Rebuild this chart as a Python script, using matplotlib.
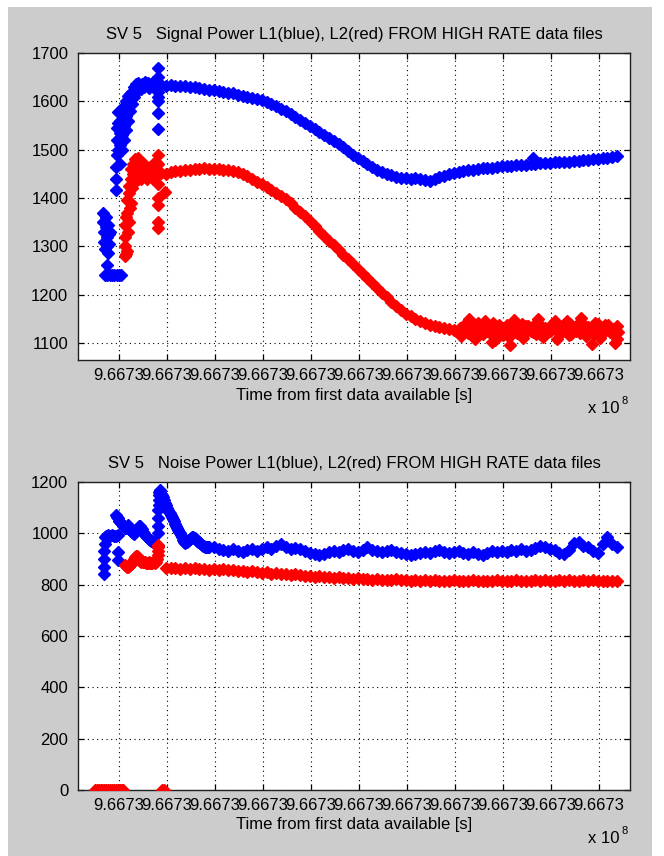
import numpy as np
import matplotlib
matplotlib.use("Agg")
import matplotlib.pyplot as plt
from matplotlib.patches import Rectangle
from matplotlib.ticker import FixedLocator, FuncFormatter

plt.rcParams['font.family'] = ['Liberation Sans', 'DejaVu Sans']

# ---------------- axis / text data ----------------
T_FIRST = 966729488.0          # epoch [s] of first data sample
TICK_OFFSET = 312.0            # first tick relative to first sample [s]
TICK_STEP = 500.0
N_TICKS = 11
X_RANGE = (-115.0, 5635.0)     # relative to first sample [s]

SIG_YLIM = (1065, 1700)
SIG_YTICKS = [1100, 1200, 1300, 1400, 1500, 1600, 1700]
NOISE_YLIM = (0, 1200)
NOISE_YTICKS = [0, 200, 400, 600, 800, 1000, 1200]

TITLE_SIG = "SV 5   Signal Power L1(blue), L2(red) FROM HIGH RATE data files"
TITLE_NOISE = "SV 5   Noise Power L1(blue), L2(red) FROM HIGH RATE data files"
XLABEL = "Time from first data available [s]"

# ---------------- signal power L1 (blue) ----------------
sig_l1_early = [
    (146, 1370), (150, 1350), (156, 1330), (160, 1310), (167, 1295), (172, 1360),
    (177, 1340), (183, 1320), (188, 1300), (194, 1287), (200, 1345), (205, 1325),
    (210, 1305), (215, 1330), (188, 1261),
    (167, 1240), (190, 1240), (215, 1240), (240, 1240), (265, 1240), (290, 1240),
    (315, 1240), (330, 1240),
    (281, 1417), (281, 1440), (281, 1465), (292, 1490), (292, 1520), (292, 1545),
    (302, 1578), (302, 1555), (302, 1500), (323, 1470), (323, 1510), (323, 1535),
    (323, 1560), (344, 1500), (344, 1530), (344, 1575), (365, 1520), (365, 1550),
    (365, 1590), (385, 1540), (385, 1570), (385, 1600), (406, 1560), (406, 1590),
    (406, 1611), (427, 1580), (427, 1600), (427, 1615), (448, 1595), (448, 1620),
    (469, 1610), (469, 1630), (490, 1620), (490, 1635), (510, 1628), (510, 1638),
    (531, 1632), (552, 1636), (573, 1630), (594, 1634), (615, 1637), (635, 1631),
    (656, 1635), (677, 1633), (698, 1630), (541, 1626), (583, 1640), (625, 1627),
    (667, 1639),
    (719, 1669), (716, 1650), (721, 1640), (718, 1620), (722, 1610), (719, 1600),
    (720, 1576), (721, 1543),
]
SIG_L1_T0 = 750
SIG_STEP = 50
sig_l1_main = [
    1633, 1632, 1634, 1631, 1632, 1631, 1630, 1629, 1628, 1626,
    1624, 1623, 1621, 1620, 1618, 1617, 1614, 1612, 1609, 1607,
    1605, 1603, 1599, 1594, 1590, 1584, 1579, 1573, 1567, 1561,
    1555, 1549, 1543, 1537, 1531, 1525, 1519, 1512, 1505, 1497,
    1490, 1483, 1477, 1471, 1465, 1459, 1454, 1450, 1447, 1444,
    1442, 1441, 1440, 1441, 1439, 1437, 1435, 1440, 1443, 1446,
    1449, 1451, 1453, 1455, 1457, 1458, 1460, 1462, 1463, 1463,
    1465, 1466, 1466, 1467, 1468, 1469, 1469, 1470, 1471, 1472,
    1472, 1473, 1474, 1474, 1475, 1475, 1476, 1477, 1478, 1479,
    1480, 1481, 1482, 1483, 1484, 1486,
]
sig_l1_extra = [(4625, 1482)]

# ---------------- signal power L2 (red) ----------------
sig_l2_early = [
    (375, 1280), (375, 1300), (375, 1320), (375, 1345), (385, 1285), (385, 1360),
    (396, 1370), (396, 1395), (396, 1290), (406, 1330), (417, 1410), (417, 1425),
    (417, 1350), (427, 1380), (437, 1440), (437, 1460), (437, 1390), (448, 1420),
    (458, 1430), (458, 1470), (458, 1450), (469, 1440), (479, 1465), (479, 1445),
    (479, 1480), (490, 1460), (510, 1483), (510, 1460), (510, 1440), (531, 1455),
    (542, 1450), (542, 1465), (542, 1440), (573, 1455), (573, 1470), (573, 1445),
    (604, 1460), (604, 1440), (604, 1450), (635, 1465), (635, 1450), (635, 1445),
    (667, 1470), (667, 1455), (667, 1440), (698, 1475), (698, 1460), (698, 1445),
    (719, 1489), (719, 1470), (719, 1430), (719, 1400), (719, 1385), (722, 1350),
    (722, 1338), (792, 1412),
]
sig_l2_main = [
    1452, 1450, 1453, 1455, 1456, 1457, 1459, 1460, 1461, 1462,
    1461, 1461, 1460, 1459, 1457, 1456, 1453, 1450, 1445, 1440,
    1434, 1429, 1423, 1417, 1411, 1404, 1397, 1389, 1380, 1371,
    1362, 1352, 1342, 1332, 1322, 1312, 1303, 1293, 1283, 1273,
    1263, 1253, 1243, 1234, 1224, 1214, 1204, 1195, 1186, 1177,
    1168, 1160, 1155, 1150, 1145, 1141, 1138, 1136, 1133, 1131,
    1130, 1128,
    1127, 1135, 1120, 1130, 1142, 1118, 1125, 1133, 1112, 1128,
    1138, 1121, 1130, 1116, 1135, 1126, 1140, 1119, 1131, 1124,
    1145, 1128, 1136, 1117, 1130, 1141, 1122, 1134, 1127, 1139,
    1120, 1132, 1126, 1135,
]
SIG_L2_SCAT_T0 = 3875
sig_l2_scatter = [
    1115, 1140, 1125, 1108, 1132, 1145, 1120, 1106, 1138, 1124,
    1113, 1147, 1129, 1110, 1136, 1122, 1150, 1112, 1127, 1139,
    1108, 1133, 1146, 1118, 1125, 1152, 1115, 1130, 1142, 1111,
    1137, 1123, 1100,
]
SIG_L2_SCAT2_T0 = 3860
sig_l2_scatter2 = [
    1131, 1122, 1138, 1126, 1119, 1134, 1128, 1141, 1123, 1117,
    1132, 1126, 1120, 1139, 1124, 1131, 1118, 1136, 1122, 1128,
    1134, 1119, 1126, 1140, 1133, 1121, 1137, 1125, 1118, 1131,
    1124, 1138, 1129, 1122,
]
sig_l2_outliers = [(4385, 1096), (5240, 1098), (5500, 1108), (3960, 1150), (4200, 1102)]

# ---------------- noise power L1 (blue) ----------------
noise_l1_early = [
    (156, 840), (157, 870), (159, 900), (161, 930), (163, 960), (166, 985),
    (177, 990), (200, 992), (220, 989), (240, 993), (260, 991), (280, 990),
    (300, 993), (302, 927), (305, 895),
    (281, 1071), (292, 1065), (302, 1058), (313, 1050), (323, 1045), (334, 1040),
    (344, 1035), (354, 1030), (365, 1028), (375, 1022), (385, 1020), (396, 1026),
    (406, 1032), (417, 1022), (427, 1015), (437, 1008), (448, 1004), (458, 1000),
    (469, 998), (479, 1005), (490, 1010), (500, 1016), (510, 1022), (521, 1028),
    (531, 1030), (542, 1022), (552, 1015), (563, 1005), (573, 1000), (583, 994),
    (594, 990), (604, 984), (615, 980), (625, 977), (635, 975), (646, 972),
    (656, 970), (667, 967), (677, 965), (688, 960), (698, 958), (708, 953),
    (719, 950),
    (719, 1000), (720, 1030), (721, 1060), (722, 1090), (724, 1110), (726, 1130),
    (728, 1150), (730, 1160), (735, 1169), (740, 1162), (750, 1155),
    (760, 1150), (771, 1140), (781, 1128), (792, 1120), (802, 1110), (812, 1100),
    (823, 1090), (833, 1085), (844, 1079), (854, 1070), (865, 1062), (875, 1055),
    (885, 1047), (896, 1038), (906, 1030), (917, 1022), (927, 1014), (938, 1007),
    (948, 1001), (958, 993), (969, 984), (979, 975), (990, 968), (1000, 962),
    (1010, 965), (1021, 968), (1031, 972), (1042, 975), (1052, 978), (1063, 982),
    (1073, 985), (1083, 986), (1094, 983), (1104, 980), (1115, 976), (1125, 972),
    (1135, 968), (1146, 965), (1156, 962), (1167, 958), (1177, 955), (1188, 952),
    (1198, 950), (1208, 948), (1219, 947), (1229, 946), (1240, 946), (1250, 947),
]
NOISE_L1_T0 = 1300
noise_l1_main = [
    945, 940, 936, 933, 938, 932, 929, 935, 938, 931,
    940, 945, 938, 950, 958, 947, 940, 944, 938, 932,
    925, 918, 916, 921, 927, 933, 928, 936, 940, 931,
    928, 935, 945, 937, 930, 926, 932, 936, 928, 922,
    918, 916, 920, 925, 929, 924, 930, 934, 927, 922,
    927, 930, 924, 921, 926, 920, 916, 922, 930, 926,
    932, 928, 935, 930, 938, 933, 936, 944, 952, 948,
    940, 935, 925, 918, 935, 962, 966, 950, 945, 932,
    925, 960, 984, 960, 947,
]

# ---------------- noise power L2 (red) ----------------
noise_l2_zero_t = [62, 80, 100, 120, 140, 160, 180, 200, 220, 240, 260, 280,
                   300, 320, 340, 354, 762, 780]
noise_l2_early = [
    (375, 877), (385, 872), (396, 868), (406, 870), (417, 874), (427, 876),
    (437, 880), (448, 886), (458, 893), (469, 900), (479, 906), (490, 910),
    (500, 912), (510, 906), (521, 898), (531, 893), (542, 890), (552, 891),
    (563, 889), (573, 890), (583, 887), (594, 885), (604, 884), (615, 886),
    (625, 888), (635, 885), (646, 883), (656, 886), (667, 889), (677, 887),
    (688, 884), (698, 890), (708, 900), (714, 915), (719, 930), (719, 945),
    (720, 955),
]
NOISE_L2_T0 = 800
noise_l2_main = [
    866, 864, 866, 862, 863, 861, 864, 860, 862, 859,
    861, 858, 860, 857, 858, 855, 853, 850, 852, 848,
    846, 848, 843, 845, 841, 842, 838, 840, 836, 835,
    833, 831, 832, 829, 830, 827, 828, 825, 826, 823,
    825, 822, 823, 820, 822, 819, 820, 818, 821, 817,
    819, 816, 818, 815, 817, 815, 818, 814, 816, 815,
    817, 813, 816, 814, 817, 815, 813, 816, 814, 817,
    815, 813, 816, 818, 815, 813, 816, 818, 815, 817,
    814, 816, 819, 815, 817, 814, 816, 818, 815, 817,
    814, 816, 815, 813, 815,
]


def regular(t0, values):
    t = t0 + SIG_STEP * np.arange(len(values))
    return t, np.asarray(values, float)


def pairs(p):
    a = np.asarray(p, float)
    return a[:, 0], a[:, 1]


def series(parts):
    ts, vs = zip(*parts)
    return T_FIRST + np.concatenate(ts), np.concatenate(vs)


sig_l1 = series([pairs(sig_l1_early), regular(SIG_L1_T0, sig_l1_main), pairs(sig_l1_extra)])
sig_l2 = series([pairs(sig_l2_early), regular(SIG_L1_T0, sig_l2_main),
                 regular(SIG_L2_SCAT_T0, sig_l2_scatter),
                 regular(SIG_L2_SCAT2_T0, sig_l2_scatter2), pairs(sig_l2_outliers)])
noise_l1 = series([pairs(noise_l1_early), regular(NOISE_L1_T0, noise_l1_main)])
noise_l2 = series([(np.asarray(noise_l2_zero_t, float), np.zeros(len(noise_l2_zero_t))),
                   pairs(noise_l2_early), regular(NOISE_L2_T0, noise_l2_main)])

# ---------------- figure ----------------
W, H = 664, 856
fig = plt.figure(figsize=(W / 100, H / 100), dpi=100, facecolor='white')
fig.patches.append(Rectangle((8 / W, 0), (652 - 8) / W, (H - 7) / H,
                             transform=fig.transFigure, facecolor='#cccccc',
                             edgecolor='none', zorder=-10))

ax_l, ax_r = 78, 630
ax1 = fig.add_axes([ax_l / W, (H - 360) / H, (ax_r - ax_l) / W, (360 - 53) / H])
ax2 = fig.add_axes([ax_l / W, (H - 790) / H, (ax_r - ax_l) / W, (790 - 482) / H])

xticks = T_FIRST + TICK_OFFSET + TICK_STEP * np.arange(N_TICKS)
FS = 12
mk = dict(linestyle='none', marker='D', markersize=6.3, markeredgewidth=1.0)

for ax, l1, l2, ylim, yticks, title in [
        (ax1, sig_l1, sig_l2, SIG_YLIM, SIG_YTICKS, TITLE_SIG),
        (ax2, noise_l1, noise_l2, NOISE_YLIM, NOISE_YTICKS, TITLE_NOISE)]:
    ax.set_facecolor('white')
    ax.plot(l1[0], l1[1], color='#0000ff', **mk, zorder=3)
    ax.plot(l2[0], l2[1], color='#ff0000', **mk, zorder=4)
    ax.set_xlim(T_FIRST + X_RANGE[0], T_FIRST + X_RANGE[1])
    ax.set_ylim(*ylim)
    ax.xaxis.set_major_locator(FixedLocator(xticks))
    ax.xaxis.set_major_formatter(FuncFormatter(lambda x, p: '%.4f' % (x / 1e8)))
    ax.set_yticks(yticks)
    ax.grid(True, color='#000000', linestyle=(0, (1, 3.2)), linewidth=0.8)
    ax.set_axisbelow(True)
    ax.tick_params(direction='in', length=4, width=0.9, top=True, right=True,
                   labelsize=FS, colors='black')
    ax.tick_params(axis='y', pad=7)
    ax.tick_params(axis='x', pad=6)
    for s in ax.spines.values():
        s.set_linewidth(1.0)
        s.set_color('#202020')
    ax.set_title(title, fontsize=FS, pad=10)
    ax.set_xlabel(XLABEL, fontsize=FS, labelpad=3)

for bottom_px in (360, 790):
    base = bottom_px + 53
    fig.text(620 / W, (H - base) / H, 'x 10', fontsize=FS, ha='right', va='baseline')
    fig.text(621 / W, (H - base + 9) / H, '8', fontsize=8, ha='left', va='baseline')

fig.savefig('out.png', dpi=100, facecolor=fig.get_facecolor())
